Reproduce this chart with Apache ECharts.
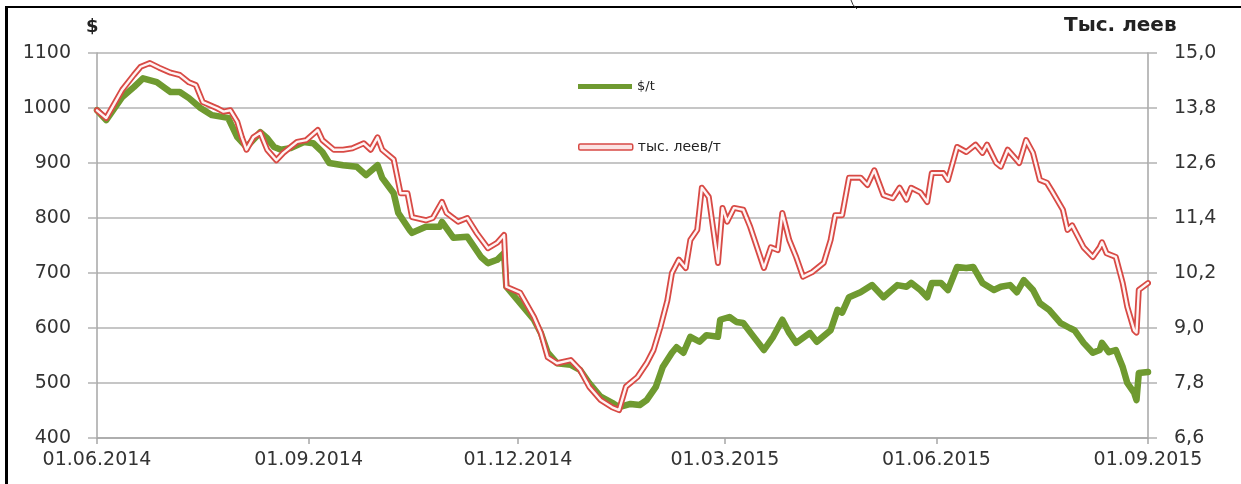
<!DOCTYPE html>
<html>
<head>
<meta charset="utf-8">
<title>$/t и тыс. леев/т</title>
<script src="https://cdn.jsdelivr.net/npm/echarts@6/dist/echarts.min.js"></script>
<style>
  html, body { margin: 0; padding: 0; background: #fff; }
  #chart { width: 1241px; height: 484px; }
</style>
</head>
<body>
<div id="chart"></div>
<script>
// Price in US dollars per tonne
const usdDates = [
  '2014-06-01','2014-06-05','2014-06-12','2014-06-17','2014-06-21','2014-06-27','2014-07-03','2014-07-07',
  '2014-07-11','2014-07-16','2014-07-21','2014-07-28','2014-08-01','2014-08-05','2014-08-11','2014-08-14',
  '2014-08-17','2014-08-20','2014-08-24','2014-08-30','2014-09-03','2014-09-07','2014-09-10','2014-09-16',
  '2014-09-22','2014-09-26','2014-10-01','2014-10-03','2014-10-08','2014-10-10','2014-10-15','2014-10-16',
  '2014-10-22','2014-10-28','2014-10-29','2014-11-03','2014-11-09','2014-11-15','2014-11-18','2014-11-22',
  '2014-11-25','2014-11-26','2014-12-02','2014-12-08','2014-12-11','2014-12-14','2014-12-18','2014-12-24',
  '2014-12-28','2015-01-01','2015-01-06','2015-01-11','2015-01-14','2015-01-19','2015-01-23','2015-01-26',
  '2015-01-30','2015-02-02','2015-02-06','2015-02-08','2015-02-11','2015-02-14','2015-02-18','2015-02-21',
  '2015-02-26','2015-02-27','2015-03-03','2015-03-06','2015-03-09','2015-03-13','2015-03-18','2015-03-22',
  '2015-03-26','2015-03-29','2015-04-01','2015-04-07','2015-04-10','2015-04-16','2015-04-19','2015-04-21',
  '2015-04-24','2015-04-29','2015-05-04','2015-05-09','2015-05-15','2015-05-19','2015-05-21','2015-05-25',
  '2015-05-28','2015-05-30','2015-06-03','2015-06-06','2015-06-10','2015-06-14','2015-06-17','2015-06-21',
  '2015-06-26','2015-06-29','2015-07-03','2015-07-06','2015-07-09','2015-07-13','2015-07-16','2015-07-20',
  '2015-07-25','2015-07-29','2015-07-31','2015-08-04','2015-08-08','2015-08-11','2015-08-12','2015-08-15',
  '2015-08-18','2015-08-21','2015-08-23','2015-08-26','2015-08-27','2015-08-28','2015-09-01'
];
const usdValues = [
  996, 978, 1020, 1038, 1054, 1047, 1029, 1029,
  1018, 1000, 987, 982, 947, 929, 956, 945,
  929, 924, 927, 938, 936, 920, 900, 896,
  893, 878, 896, 873, 845, 809, 778, 773,
  784, 784, 793, 764, 766, 729, 718, 724,
  736, 675, 645, 615, 591, 555, 536, 533,
  524, 500, 475, 464, 456, 462, 460, 469,
  493, 529, 555, 565, 555, 584, 575, 587,
  584, 615, 620, 611, 609, 587, 560, 584,
  615, 591, 573, 591, 575, 596, 633, 628,
  656, 665, 678, 656, 678, 675, 682, 669,
  656, 682, 682, 669, 711, 709, 711, 682,
  669, 675, 678, 665, 687, 669, 645, 633,
  609, 600, 596, 573, 555, 560, 573, 556,
  560, 529, 500, 482, 469, 518, 520
];

// Price in thousand lei per tonne
const levDates = [
  '2014-06-01','2014-06-05','2014-06-12','2014-06-17','2014-06-20','2014-06-24','2014-06-28','2014-07-03',
  '2014-07-07','2014-07-11','2014-07-14','2014-07-17','2014-07-23','2014-07-26','2014-07-29','2014-08-01',
  '2014-08-03','2014-08-05','2014-08-08','2014-08-11','2014-08-14','2014-08-18','2014-08-21','2014-08-27',
  '2014-08-31','2014-09-05','2014-09-07','2014-09-12','2014-09-16','2014-09-20','2014-09-25','2014-09-28',
  '2014-10-01','2014-10-03','2014-10-08','2014-10-11','2014-10-14','2014-10-16','2014-10-22','2014-10-25',
  '2014-10-29','2014-10-31','2014-11-05','2014-11-09','2014-11-13','2014-11-18','2014-11-22','2014-11-25',
  '2014-11-26','2014-12-02','2014-12-08','2014-12-11','2014-12-14','2014-12-18','2014-12-24','2014-12-28',
  '2015-01-01','2015-01-06','2015-01-11','2015-01-14','2015-01-17','2015-01-22','2015-01-26','2015-01-29',
  '2015-02-01','2015-02-04','2015-02-06','2015-02-09','2015-02-12','2015-02-14','2015-02-17','2015-02-19',
  '2015-02-22','2015-02-26','2015-02-28','2015-03-02','2015-03-05','2015-03-09','2015-03-12','2015-03-18',
  '2015-03-21','2015-03-24','2015-03-26','2015-03-29','2015-04-01','2015-04-04','2015-04-08','2015-04-13',
  '2015-04-16','2015-04-18','2015-04-21','2015-04-24','2015-04-29','2015-05-02','2015-05-05','2015-05-09',
  '2015-05-13','2015-05-16','2015-05-19','2015-05-21','2015-05-25','2015-05-28','2015-05-30','2015-06-04',
  '2015-06-06','2015-06-10','2015-06-14','2015-06-18','2015-06-21','2015-06-23','2015-06-27','2015-06-29',
  '2015-07-02','2015-07-06','2015-07-07','2015-07-10','2015-07-13','2015-07-16','2015-07-19','2015-07-21',
  '2015-07-26','2015-07-28','2015-07-30','2015-08-04','2015-08-08','2015-08-11','2015-08-12','2015-08-14',
  '2015-08-18','2015-08-21','2015-08-23','2015-08-26','2015-08-27','2015-08-28','2015-09-01'
];
const levValues = [
  13.75, 13.58, 14.20, 14.52, 14.70, 14.78, 14.68, 14.57,
  14.52, 14.36, 14.30, 13.93, 13.80, 13.72, 13.75, 13.50,
  13.16, 12.89, 13.16, 13.26, 12.89, 12.66, 12.82, 13.06,
  13.10, 13.32, 13.10, 12.89, 12.89, 12.92, 13.03, 12.89,
  13.16, 12.89, 12.68, 11.94, 11.94, 11.42, 11.35, 11.40,
  11.75, 11.51, 11.32, 11.40, 11.08, 10.74, 10.86, 11.03,
  9.90, 9.77, 9.24, 8.89, 8.36, 8.23, 8.30, 8.09,
  7.72, 7.43, 7.27, 7.21, 7.72, 7.93, 8.23, 8.52,
  9.02, 9.60, 10.20, 10.49, 10.31, 10.92, 11.14, 12.06,
  11.86, 10.42, 11.62, 11.32, 11.62, 11.58, 11.21, 10.31,
  10.76, 10.70, 11.51, 10.92, 10.55, 10.12, 10.22, 10.42,
  10.92, 11.46, 11.46, 12.28, 12.28, 12.12, 12.44, 11.90,
  11.83, 12.06, 11.80, 12.06, 11.96, 11.75, 12.38, 12.38,
  12.23, 12.95, 12.84, 13.00, 12.82, 13.00, 12.60, 12.52,
  12.89, 12.66, 12.60, 13.10, 12.82, 12.23, 12.17, 12.01,
  11.58, 11.14, 11.24, 10.76, 10.55, 10.76, 10.87, 10.63,
  10.55, 9.98, 9.46, 8.95, 8.90, 9.83, 9.98
];

// Axis ticks
const xTickLabels = ['01.06.2014', '01.09.2014', '01.12.2014', '01.03.2015', '01.06.2015', '01.09.2015'];
const leftTicks = [400, 500, 600, 700, 800, 900, 1000, 1100];
const rightTicks = [6.6, 7.8, 9.0, 10.2, 11.4, 12.6, 13.8, 15.0];

const seriesNames = ['$/t', 'тыс. леев/т'];

// dates are placed on a numeric (millisecond) scale
function labelToTime(label) {
  const p = label.split('.');
  return Date.UTC(+p[2], +p[1] - 1, +p[0]);
}
function isoToTime(s) {
  const p = s.split('-');
  return Date.UTC(+p[0], +p[1] - 1, +p[2]);
}
function pad(n) { return (n < 10 ? '0' : '') + n; }
function timeToLabel(t) {
  const d = new Date(t);
  return pad(d.getUTCDate()) + '.' + pad(d.getUTCMonth() + 1) + '.' + d.getUTCFullYear();
}

const xTicks = xTickLabels.map(labelToTime);
const usdData = usdDates.map((d, i) => [isoToTime(d), usdValues[i]]);
const levData = levDates.map((d, i) => [isoToTime(d), levValues[i]]);

const FONT = 'DejaVu Sans';
const TEXT = '#333333';
const GRID = '#b3b3b3';
const AXIS = '#a6a6a6';
const GREEN = '#6f9a30';
const RED = '#d84a45';

const chart = echarts.init(document.getElementById('chart'), null, { renderer: 'canvas' });

chart.setOption({
  animation: false,
  backgroundColor: '#ffffff',
  textStyle: { fontFamily: FONT },
  grid: { left: 97, right: 93, top: 53, bottom: 46, containLabel: false },
  legend: [
    {
      data: [{ name: seriesNames[0], icon: 'rect', itemStyle: { color: GREEN } }],
      left: 573, top: 75,
      itemWidth: 54, itemHeight: 5,
      textStyle: { fontFamily: FONT, fontSize: 13, color: '#222' },
      selectedMode: false
    },
    {
      data: [{ name: seriesNames[1], icon: 'roundRect',
               itemStyle: { color: '#fbe3e3', borderColor: RED, borderWidth: 1.5 } }],
      left: 573, top: 135,
      itemWidth: 54, itemHeight: 6,
      textStyle: { fontFamily: FONT, fontSize: 14, color: '#222' },
      selectedMode: false
    }
  ],
  xAxis: {
    type: 'value',
    min: xTicks[0],
    max: xTicks[xTicks.length - 1],
    axisLine: { show: true, onZero: false, lineStyle: { color: AXIS, width: 1.5 } },
    axisTick: { show: true, length: 6, customValues: xTicks, lineStyle: { color: AXIS, width: 1.5 } },
    axisLabel: {
      customValues: xTicks,
      formatter: (v) => timeToLabel(v),
      fontFamily: FONT, fontSize: 19, color: TEXT, margin: 13,
      showMinLabel: true, showMaxLabel: true, hideOverlap: false
    },
    splitLine: { show: false }
  },
  yAxis: [
    {
      type: 'value',
      min: leftTicks[0], max: leftTicks[leftTicks.length - 1], interval: 100,
      position: 'left',
      axisLine: { show: true, lineStyle: { color: AXIS, width: 1.5 } },
      axisTick: { show: true, length: 9, lineStyle: { color: GRID, width: 1.5 } },
      axisLabel: { formatter: (v) => String(v), fontFamily: FONT, fontSize: 19, color: TEXT, margin: 26 },
      splitLine: { show: true, lineStyle: { color: GRID, width: 1.5 } }
    },
    {
      type: 'value',
      min: rightTicks[0], max: rightTicks[rightTicks.length - 1],
      position: 'right',
      axisLine: { show: true, lineStyle: { color: AXIS, width: 1.5 } },
      axisTick: { show: true, length: 9, customValues: rightTicks, lineStyle: { color: GRID, width: 1.5 } },
      axisLabel: {
        customValues: rightTicks,
        formatter: (v) => v.toFixed(1).replace('.', ','),
        fontFamily: FONT, fontSize: 19, color: TEXT, margin: 26
      },
      splitLine: { show: false }
    }
  ],
  graphic: [
    // frame
    { type: 'rect', shape: { x: 5, y: 6, width: 3, height: 478 }, style: { fill: '#000' }, silent: true },
    { type: 'rect', shape: { x: 5, y: 6, width: 1236, height: 2 }, style: { fill: '#000' }, silent: true },
    { type: 'bezierCurve', shape: { x1: 851, y1: 0, x2: 857, y2: 9, cpx1: 852, cpy1: 5 },
      style: { stroke: '#333', lineWidth: 1, fill: null }, silent: true },
    // axis titles
    { type: 'text', left: 86, top: 18,
      style: { text: '$', fontFamily: FONT, fontSize: 18, fontWeight: 'bold', fill: '#222' } },
    { type: 'text', left: 1064, top: 16,
      style: { text: 'Тыс. леев', fontFamily: FONT, fontSize: 20, fontWeight: 'bold', fill: '#222' } }
  ],
  series: [
    {
      name: seriesNames[0],
      type: 'line',
      yAxisIndex: 0,
      data: usdData,
      showSymbol: false,
      symbol: 'none',
      lineStyle: { color: GREEN, width: 6.5, join: 'round', cap: 'round' },
      itemStyle: { color: GREEN },
      z: 2
    },
    {
      name: seriesNames[1],
      type: 'line',
      yAxisIndex: 1,
      data: levData,
      showSymbol: false,
      symbol: 'none',
      lineStyle: { color: RED, width: 6, join: 'round', cap: 'round' },
      itemStyle: { color: RED },
      z: 3
    },
    {
      name: 'core',
      type: 'line',
      yAxisIndex: 1,
      data: levData,
      showSymbol: false,
      symbol: 'none',
      lineStyle: { color: '#fff4f4', width: 2.4, join: 'round', cap: 'round' },
      z: 4
    }
  ]
});
</script>
</body>
</html>
